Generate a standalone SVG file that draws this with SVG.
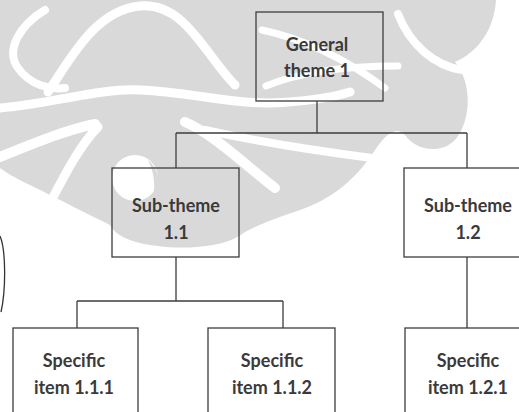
<svg xmlns="http://www.w3.org/2000/svg" width="519" height="412" viewBox="0 0 519 412">
<style>
.box{fill:none;stroke:#3d3d3d;stroke-width:1.3}
.ln{fill:none;stroke:#3d3d3d;stroke-width:1.3}
.t{font-family:Lato,"Open Sans","Liberation Sans",sans-serif;font-weight:700;font-size:18px;fill:#3a3a3a;text-anchor:middle}
.wm{fill:#d9d9d9}
.ws{fill:none;stroke:#fff;stroke-linecap:round}
</style>
<rect width="519" height="412" fill="#fff"/>
<g id="watermark">
<path class="wm" d="M0,0 L496,0 C494,30 478,52 455,62 C472,82 472,120 455,140 C440,155 415,150 405,135 C395,125 385,135 373,153 C355,180 330,200 300,210 C270,220 250,228 239,236 C220,248 180,250 150,245 C130,242 115,235 110,225 C90,215 60,200 30,185 C15,178 5,172 0,168 Z"/>
<path class="ws" stroke-width="9" d="M48,92 C70,60 95,10 140,6 C185,2 205,55 235,85"/>
<path class="ws" stroke-width="8" d="M45,10 C20,25 5,50 18,68 C30,85 50,90 65,88"/>
<path class="ws" stroke-width="9" d="M0,108 C50,104 100,88 140,90 C190,92 230,104 270,103 C300,102 330,98 350,92"/>
<path class="ws" stroke-width="7" d="M262,30 C300,38 340,55 385,88"/>
<path class="ws" stroke-width="7" d="M266,86 C300,72 345,66 398,66"/>
<path class="ws" stroke-width="8" d="M398,14 C410,45 435,66 462,70"/>
<circle cx="135" cy="178" r="23" fill="#fff"/>
<path class="wm" d="M148,160 C162,172 164,194 150,210 C156,192 156,176 148,160 Z"/>
<path class="ws" stroke-width="10" d="M0,157 C30,145 65,130 95,124"/>
<path class="ws" stroke-width="9" d="M40,222 C55,195 75,150 98,127"/>
<path class="ws" stroke-width="10" d="M185,122 C215,135 245,165 275,188"/>
<path class="ws" stroke-width="8" d="M205,130 C250,140 310,150 372,158"/>
</g>
<path d="M0,236 C6,250 6,290 1,312" fill="none" stroke="#333" stroke-width="1.3"/>
<g id="connectors">
<path class="ln" d="M317,101 V133 M176,133 H467 M176,133 V168 M467,133 V168"/>
<path class="ln" d="M176,257 V301 M77,301 H283 M77,301 V328 M283,301 V328"/>
<path class="ln" d="M467,257 V328"/>
</g>
<g id="general1">
<rect class="box" x="256" y="12" width="127" height="89"/>
<text class="t" x="317" y="51">General</text>
<text class="t" x="317" y="77">theme 1</text>
</g>
<g id="sub11">
<rect class="box" x="112" y="168" width="127" height="89"/>
<text class="t" x="176" y="212">Sub-theme</text>
<text class="t" x="176" y="239">1.1</text>
</g>
<g id="sub12">
<rect class="box" x="404" y="168" width="127" height="89"/>
<text class="t" x="468" y="212">Sub-theme</text>
<text class="t" x="468" y="239">1.2</text>
</g>
<g id="spec111">
<rect class="box" x="13" y="328" width="125" height="100"/>
<text class="t" x="74" y="367">Specific</text>
<text class="t" x="74" y="394">item 1.1.1</text>
</g>
<g id="spec112">
<rect class="box" x="208" y="328" width="127" height="100"/>
<text class="t" x="272" y="367">Specific</text>
<text class="t" x="272" y="394">item 1.1.2</text>
</g>
<g id="spec121">
<rect class="box" x="405" y="328" width="127" height="100"/>
<text class="t" x="468" y="367">Specific</text>
<text class="t" x="468" y="394">item 1.2.1</text>
</g>
</svg>
